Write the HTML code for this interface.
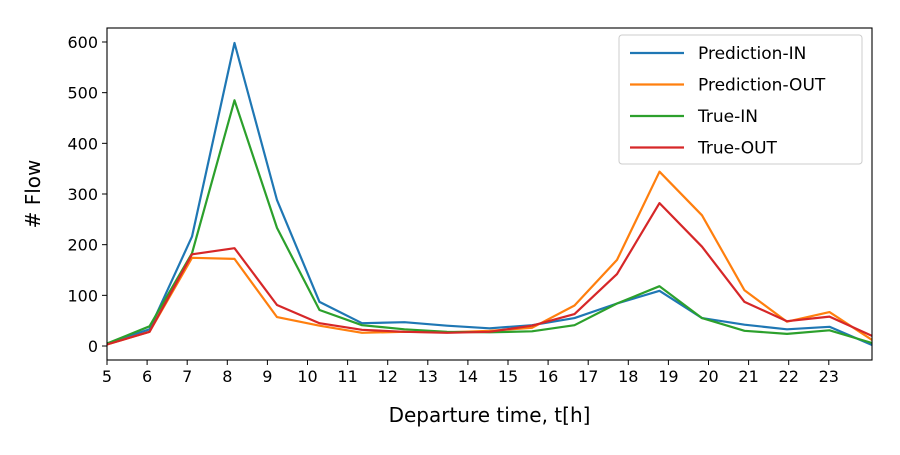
<!DOCTYPE html>
<html><head><meta charset="utf-8"><style>
body{margin:0;background:#fff;font-family:"Liberation Sans","DejaVu Sans",sans-serif}
svg text{font-family:"DejaVu Sans","Liberation Sans",sans-serif}
</style></head><body>
<svg id="c" width="900" height="450"></svg>
<script>
const hours=[5,6,7,8,9,10,11,12,13,14,15,16,17,18,19,20,21,22,23,24];
const xTicks=[5,6,7,8,9,10,11,12,13,14,15,16,17,18,19,20,21,22,23];
const yTicks=[0,100,200,300,400,500,600];
const predIn=[5,33,216,598,288,87,45,47,40,35,41,55,84,109,55,42,33,38,2];
const predOut=[3,28,174,172,57,40,26,28,27,30,36,80,170,344,258,110,48,67,12];
const trueIn=[5,39,183,485,233,71,41,33,28,27,29,41,84,118,55,30,24,31,6];
const trueOut=[3,28,181,193,81,45,32,28,26,28,40,63,142,282,196,87,49,58,20];
const seriesNames=["Prediction-IN","Prediction-OUT","True-IN","True-OUT"];
const colors=["#1f77b4","#ff7f0e","#2ca02c","#d62728"];
const allSeries=[predIn,predOut,trueIn,trueOut];
const L=107,R=872,T=28,B=360;
const xMin=5,xMax=5+18*42.5/40.1*765/765*1; // data span
const xDomMax=5+765/40.1;
const yMin=-27.6,yMax=627.6;
const X=v=>L+(v-xMin)/(xDomMax-xMin)*(R-L);
const Y=v=>B-(v-yMin)/(yMax-yMin)*(B-T);
const ns="http://www.w3.org/2000/svg",svg=document.getElementById('c');
function mk(t,a,p){const e=document.createElementNS(ns,t);for(const k in a)e.setAttribute(k,a[k]);(p||svg).appendChild(e);return e;}
const step=(xDomMax-xMin)*(765/765)/18*(765/765);
// x position of i-th point: spans full axis width
const px=i=>X(xMin+i*(xDomMax-xMin)/18);
allSeries.forEach((s,k)=>{
 const d=s.map((v,i)=>(i?'L':'M')+px(i).toFixed(1)+' '+Y(v).toFixed(1)).join(' ');
 const p=mk('path',{d:d,fill:'none',stroke:colors[k],'stroke-width':2.2,'stroke-linejoin':'round'});
 
 
});
const fr=mk('rect',{x:L,y:T,width:R-L,height:B-T,fill:'none',stroke:'#000','stroke-width':1.1});


xTicks.forEach(h=>{
 const x=X(h);
 mk('line',{x1:x,x2:x,y1:B,y2:B+5,stroke:'#000'});
 const t=mk('text',{x:x,y:B+22,'text-anchor':'middle','font-size':16});t.textContent=h;
 
 
});
yTicks.forEach(v=>{
 const y=Y(v);
 mk('line',{x1:L-5,x2:L,y1:y,y2:y,stroke:'#000'});
 const t=mk('text',{x:L-9,y:y+6,'text-anchor':'end','font-size':16});t.textContent=v;
 
 
});
const xt=mk('text',{x:(L+R)/2,y:422,'text-anchor':'middle','font-size':20});xt.textContent='Departure time, t[h]';


const yt=mk('text',{x:40,y:(T+B)/2,'text-anchor':'middle','font-size':20,transform:'rotate(-90 40 '+(T+B)/2+')'});yt.textContent='# Flow';


const lg=mk('g',{});


mk('rect',{x:619,y:35,width:243,height:129,rx:3,fill:'#fff','fill-opacity':0.8,stroke:'#ccc'},lg);
seriesNames.forEach((n,k)=>{
 const y=53+k*31.5;
 const g=mk('g',{},lg);
 
 
 mk('line',{x1:630,x2:684,y1:y,y2:y,stroke:colors[k],'stroke-width':2.2},g);
 const t=mk('text',{x:698,y:y+6,'font-size':17},g);t.textContent=n;
});
</script>
</body></html>
